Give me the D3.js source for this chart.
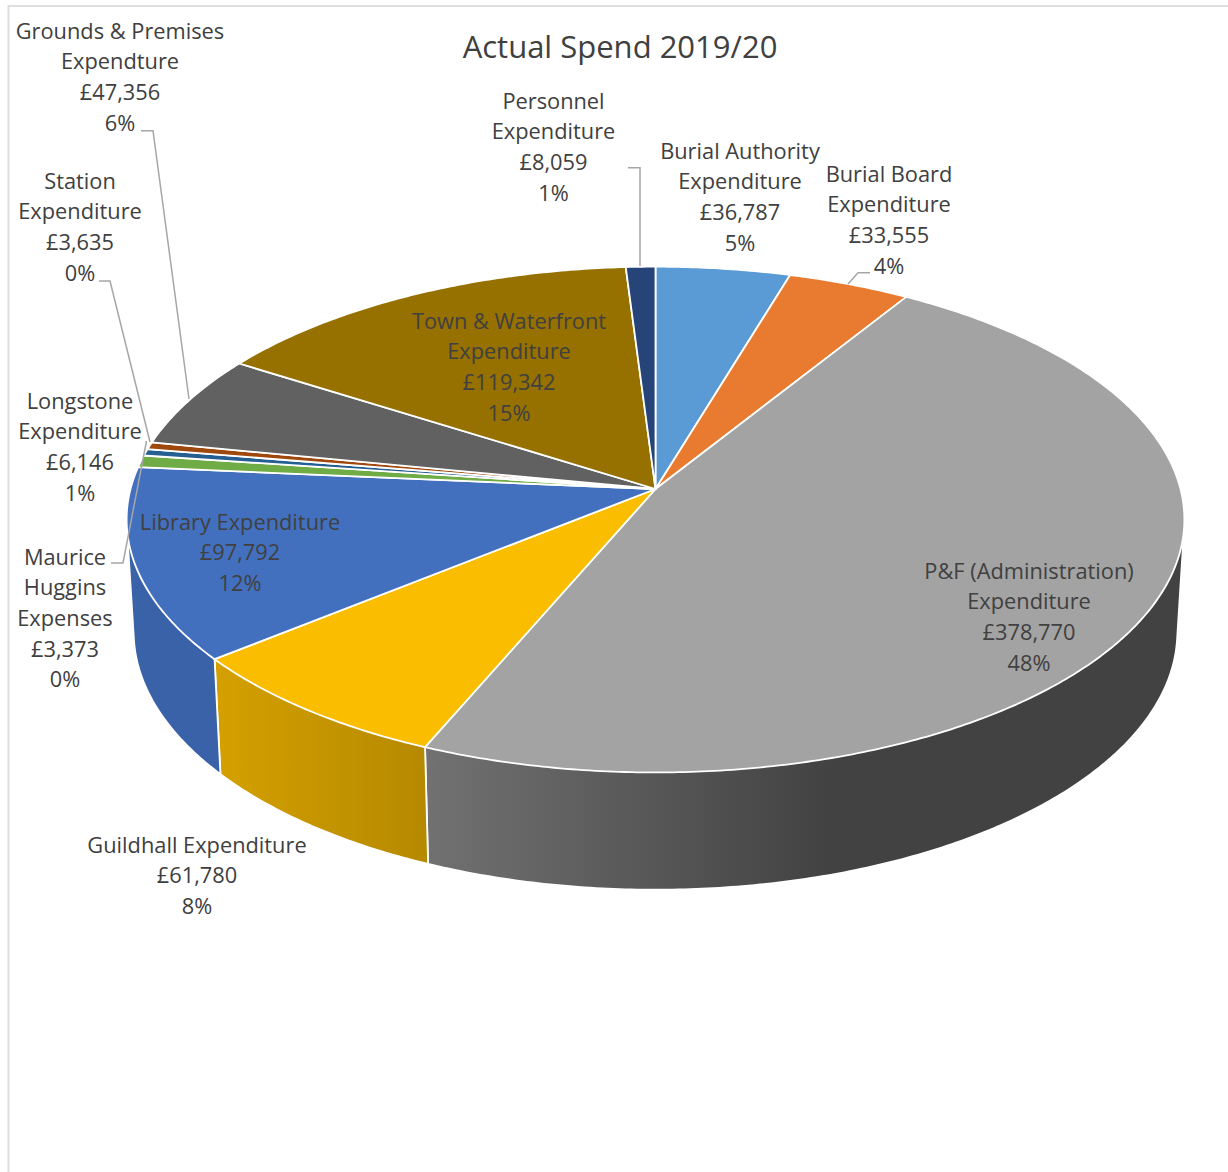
<!DOCTYPE html>
<html>
<head>
  <meta charset="utf-8">
  <title>Actual Spend 2019/20</title>
  <script src="https://d3js.org/d3.v7.min.js"></script>
  <style>
    html, body { margin: 0; background: #fff; }
    svg { display: block; }
    text { font-family: "Open Sans", sans-serif; fill: #404040; }
  </style>
</head>
<body>
  <div id="chart"></div>
  <script>
    const categories = [
      ["Burial Authority", "Expenditure"],
      ["Burial Board", "Expenditure"],
      ["P&F (Administration)", "Expenditure"],
      ["Guildhall Expenditure"],
      ["Library Expenditure"],
      ["Longstone", "Expenditure"],
      ["Maurice", "Huggins", "Expenses"],
      ["Station", "Expenditure"],
      ["Grounds & Premises", "Expendture"],
      ["Town & Waterfront", "Expenditure"],
      ["Personnel", "Expenditure"]
    ];
    const spend = [36787, 33555, 378770, 61780, 97792, 6146, 3373, 3635, 47356, 119342, 8059];
    const colors = ["#5a9ad5", "#e97b31", "#a3a3a3", "#fbbd00", "#4270bf", "#6fac46",
                    "#255e91", "#9e480e", "#616161", "#967100", "#264478"];

    const width = 1228, height = 1172;
    const total = d3.sum(spend);
    const fmt = d3.format(",");

    const svg = d3.select("#chart").append("svg")
      .attr("width", width)
      .attr("height", height);

    // chart area frame, only top and left show in the crop
    svg.append("path")
      .attr("d", `M8.5,${height}V6H${width}`)
      .attr("fill", "none")
      .attr("stroke", "#dedede")
      .attr("stroke-width", 2);

    // perspective projection of the pie disc, far side shrinks by k
    const k = 0.1208;
    const cx = 655.5;
    const topFace = { y0: 489, rx: 525, ry: 249.2 };
    const bottomFace = { y0: 600.5, rx: 518, ry: 254.3 };
    function project(face, a) {
      const u = Math.sin(a), v = Math.cos(a), w = 1 + k * v;
      return [cx + face.rx * u / w, face.y0 - face.ry * v / w];
    }
    function arcPoints(face, a0, a1) {
      const n = Math.max(2, Math.ceil((a1 - a0) / 0.01));
      return d3.range(n + 1).map(i => project(face, a0 + (a1 - a0) * i / n));
    }

    const slices = d3.pie().sort(null)(spend);
    const line = d3.line();
    const defs = svg.append("defs");

    // side wall shading, only the three slices at the front are seen
    const wallShades = {
      2: { x1: 428, x2: 830, stops: ["#717171", "#424242"] },
      3: { x1: 220, x2: 428, stops: ["#d4a000", "#b58900"] },
      4: { x1: 135, x2: 220, stops: ["#3a62a8", "#3a62a8"] }
    };
    Object.entries(wallShades).forEach(([i, s]) => {
      const g = defs.append("linearGradient")
        .attr("id", "wall" + i)
        .attr("gradientUnits", "userSpaceOnUse")
        .attr("x1", s.x1).attr("x2", s.x2)
        .attr("y1", 0).attr("y2", 0);
      s.stops.forEach((c, j) => g.append("stop").attr("offset", j).attr("stop-color", c));
    });

    // hull of both rims, the part inside the disc gets covered by the top face
    svg.append("g").selectAll("path")
      .data(slices.filter(d => wallShades[d.index]))
      .join("path")
      .attr("d", d => {
        const t = arcPoints(topFace, d.startAngle, d.endAngle);
        const b = arcPoints(bottomFace, d.startAngle, d.endAngle);
        return line(d3.polygonHull(t.concat(b))) + "Z";
      })
      .attr("fill", d => `url(#wall${d.index})`)
      .attr("stroke", "#fff")
      .attr("stroke-width", 1.8)
      .attr("stroke-linejoin", "round");

    svg.append("g").selectAll("path")
      .data(slices)
      .join("path")
      .attr("d", d => line([[cx, topFace.y0]].concat(arcPoints(topFace, d.startAngle, d.endAngle))) + "Z")
      .attr("fill", d => colors[d.index])
      .attr("stroke", "#fff")
      .attr("stroke-width", 1.8)
      .attr("stroke-linejoin", "round");

    // leader lines
    const leaders = [
      [[141, 130.7], [153, 130.7], [189, 399]],
      [[99, 281], [110, 281], [150, 442]],
      [[111, 563], [123, 563], [146.5, 441]],
      [[870, 272.7], [858, 272.7], [848, 284]],
      [[628, 167.7], [640, 167.7], [640, 266]]
    ];
    svg.append("g").selectAll("path")
      .data(leaders)
      .join("path")
      .attr("d", d => line(d))
      .attr("fill", "none")
      .attr("stroke", "#a6a6a6")
      .attr("stroke-width", 1.5);

    // data labels: centre x and y of the first line
    const labelPos = [
      [740, 151], [889, 174], [1029, 571], [197, 845], [240, 522], [80, 401],
      [65, 557], [80, 181], [120, 31], [509, 321], [553.5, 101]
    ];
    const lineStep = 30.7;
    const labels = svg.append("g").attr("font-size", 21.8).attr("text-anchor", "middle");
    spend.forEach((v, i) => {
      const rows = categories[i].concat(["£" + fmt(v), Math.round(v / total * 100) + "%"]);
      labels.selectAll(null)
        .data(rows)
        .enter().append("text")
        .attr("x", labelPos[i][0])
        .attr("y", (d, j) => labelPos[i][1] + j * lineStep)
        .attr("dy", "0.35em")
        .text(d => d);
    });

    svg.append("text")
      .attr("x", 620)
      .attr("y", 47)
      .attr("dy", "0.35em")
      .attr("text-anchor", "middle")
      .attr("font-size", 31)
      .text("Actual Spend 2019/20");
  </script>
</body>
</html>
